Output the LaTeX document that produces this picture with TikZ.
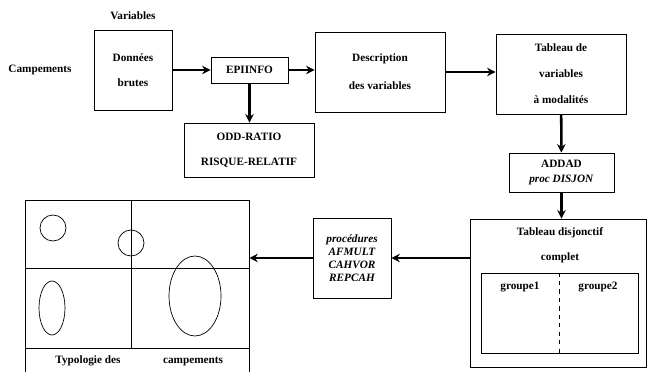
\documentclass[tikz,border=0pt]{standalone}
\usepackage{fontspec}
\setmainfont{Liberation Serif}
\usetikzlibrary{arrows.meta,positioning}

\begin{document}
\begin{tikzpicture}[>=Stealth, x=0.025cm, y=-0.025cm,
  every node/.style={font=\bfseries\fontsize{8}{10}\selectfont, align=center},
  box/.style={draw, line width=0.6pt},
  flow/.style={-{Stealth[length=6pt,width=6pt]}, line width=1.8pt}]
  \useasboundingbox (0,0) rectangle (649,372);
  \node (var) at (133,16) {Variables};
  \node (camp) at (40,70) {Campements};
  \node[box, minimum width=1.95cm, minimum height=2cm] (don) at (133,70) {Données\\[8pt]brutes};
  \node[box, minimum width=1.925cm, minimum height=0.65cm] (epi) at (249.5,70) {EPIINFO};
  \node[box, minimum width=3.25cm, minimum height=1.35cm] (odd) at (249,150) {ODD-RATIO\\[8pt]RISQUE-RELATIF};
  \node[box, minimum width=3.25cm, minimum height=2cm] (desc) at (380,72) {Description\\[10pt]des variables};
  \node[box, minimum width=3.25cm, minimum height=2cm] (tab) at (561,74) {Tableau de\\[8.5pt]variables\\[8.5pt]à modalités};
  \node[box, minimum width=2.625cm, minimum height=0.975cm] (addad) at (561.5,172.5) {ADDAD\\\textit{proc DISJON}};
  \node[box, minimum width=4.4cm, minimum height=3.7cm] (disj) at (558,293) {};
  \node (disjtxt) at (560,245.5) {Tableau disjonctif\\[8pt]complet};
  \node[box, minimum width=3.925cm, minimum height=2cm] (grp) at (559.5,313) {};
  \node (g1) at (520,287) {groupe1};
  \node (g2) at (598,287) {groupe2};
  \node[box, minimum width=1.95cm, minimum height=2cm, font=\bfseries\itshape\fontsize{8}{9.2}\selectfont] (proc) at (352,258) {procédures\\AFMULT\\CAHVOR\\REPCAH};
  \node[minimum width=5.575cm, minimum height=4.275cm] (typo) at (137.5,286.5) {};
  \node (typ1) at (88,361) {Typologie des};
  \node (typ2) at (193,362) {campements};
  % typologie: cadre ouvert en bas et plan factoriel
  \draw[line width=0.6pt] (typo.south west) |- (typo.north east) -- (typo.south east);
  \draw[line width=0.6pt] (26,268) -- (249,268);
  \draw[line width=0.6pt] (26,348) -- (249,348);
  \draw[line width=0.6pt] (131,201) -- (131,348);
  \draw[line width=0.5pt] (53,228) circle [radius=13];
  \draw[line width=0.5pt] (131,243) circle [radius=13];
  \draw[line width=0.5pt] (52,308) ellipse [x radius=13, y radius=27];
  \draw[line width=0.5pt] (195,296) ellipse [x radius=26, y radius=40];
  \draw[dashed, line width=0.5pt] (grp.north) -- (grp.south);
  % fleches
  \draw[flow] (don) -- (epi);
  \draw[flow] (epi.east) -- (epi.east -| desc.west);
  \draw[flow] (epi.south) -- (epi.south |- odd.north);
  \draw[flow] (desc.east) -- (desc.east -| tab.west);
  \draw[flow] (tab) -- (addad);
  \draw[flow] (addad.south) -- (addad.south |- disj.north);
  \draw[flow] (disj.west |- proc) -- (proc);
  \draw[flow] (proc) -- (proc -| typo.east);
\end{tikzpicture}
\end{document}
